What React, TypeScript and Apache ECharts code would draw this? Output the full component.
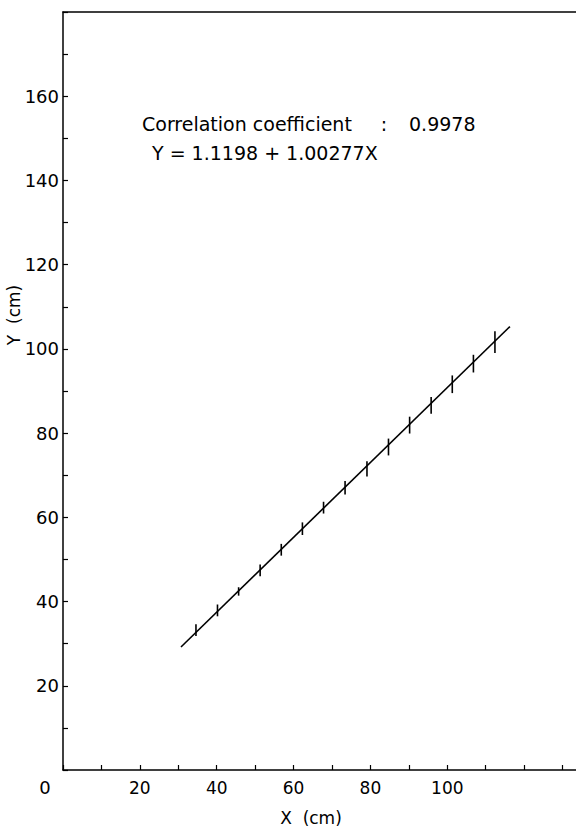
import React, { useEffect, useRef } from "react";
import * as echarts from "echarts";

// Data (X and Y in cm)
const pointX = [34.6, 40.2, 45.7, 51.3, 56.8, 62.3, 67.8, 73.4, 79.1, 84.7, 90.2, 95.8, 101.3, 106.8, 112.4];
const pointY = [33.2, 37.9, 42.4, 47.4, 52.3, 57.3, 62.3, 67.0, 71.5, 76.7, 81.9, 86.6, 91.6, 96.5, 101.6];
const errY = [1.4, 1.4, 1.0, 1.4, 1.4, 1.5, 1.4, 1.6, 1.8, 2.0, 2.0, 2.0, 2.1, 2.1, 2.6];
const fitLineX = [30.7, 116.3];
const fitLineY = [29.2, 105.3];
const xTickLabels = [20, 40, 60, 80, 100];
const yTickLabels = [20, 40, 60, 80, 100, 120, 140, 160];
const corrLabel = "Correlation coefficient";
const corrValue = "0.9978";
const equation = "Y = 1.1198 + 1.00277X";

const FONT = "DejaVu Sans";

export default function App() {
  const ref = useRef<HTMLDivElement>(null);
  useEffect(() => {
    if (!ref.current) return;
    const chart = echarts.init(ref.current, undefined, { renderer: "svg" });
    const axisLine = { show: true, lineStyle: { color: "#000", width: 1.5 } };
    const option: any = {
      animation: false,
      backgroundColor: "#fff",
      grid: { left: 63, right: 19, top: 12, bottom: 57, containLabel: false },
      xAxis: [
        {
          type: "value",
          position: "bottom",
          min: 0,
          max: 140,
          interval: 10,
          axisLine,
          axisTick: { show: true, inside: true, length: 5, lineStyle: { color: "#000", width: 1.2 } },
          axisLabel: {
            color: "#000",
            fontFamily: FONT,
            fontSize: 17,
            margin: 9,
            showMaxLabel: false,
            formatter: (v: number) => (xTickLabels.includes(v) ? String(v) : ""),
          },
          splitLine: { show: false },
        },
        {
          type: "value",
          position: "top",
          min: 0,
          max: 140,
          axisLine,
          axisTick: { show: false },
          axisLabel: { show: false },
          splitLine: { show: false },
        },
      ],
      yAxis: {
        type: "value",
        min: 0,
        max: 180,
        interval: 10,
        axisLine,
        axisTick: { show: true, inside: true, length: 5, lineStyle: { color: "#000", width: 1.2 } },
        axisLabel: {
          color: "#000",
          fontFamily: FONT,
          fontSize: 18,
          margin: 4,
          formatter: (v: number) => (yTickLabels.includes(v) ? String(v) : ""),
        },
        splitLine: { show: false },
      },
      series: [
        {
          type: "line",
          xAxisIndex: 0,
          data: fitLineX.map((x, i) => [x, fitLineY[i]]),
          showSymbol: false,
          lineStyle: { color: "#000", width: 1.6 },
          silent: true,
        },
        {
          type: "custom",
          xAxisIndex: 0,
          data: pointX.map((x, i) => [x, pointY[i], errY[i]]),
          renderItem: (params: any, api: any) => {
            const x = api.value(0);
            const y = api.value(1);
            const e = api.value(2);
            const p1 = api.coord([x, y - e]);
            const p2 = api.coord([x, y + e]);
            return {
              type: "line",
              shape: { x1: p1[0], y1: p1[1], x2: p2[0], y2: p2[1] },
              style: { stroke: "#000", lineWidth: 1.6 },
            };
          },
          silent: true,
        },
      ],
      graphic: [
        {
          type: "text",
          x: 45,
          y: 787,
          style: { text: "0", fontFamily: FONT, fontSize: 18, fill: "#000", align: "center", verticalAlign: "middle" },
        },
        {
          type: "text",
          x: 311,
          y: 818,
          style: { text: "X  (cm)", fontFamily: FONT, fontSize: 17, fill: "#000", align: "center", verticalAlign: "middle" },
        },
        {
          type: "text",
          x: 14,
          y: 315,
          rotation: Math.PI / 2,
          style: { text: "Y  (cm)", fontFamily: FONT, fontSize: 17, fill: "#000", align: "center", verticalAlign: "middle" },
        },
        {
          type: "text",
          x: 142,
          y: 124,
          style: { text: corrLabel, fontFamily: FONT, fontSize: 19, fill: "#000", align: "left", verticalAlign: "middle" },
        },
        {
          type: "text",
          x: 384,
          y: 124,
          style: { text: ":", fontFamily: FONT, fontSize: 19, fill: "#000", align: "center", verticalAlign: "middle" },
        },
        {
          type: "text",
          x: 409,
          y: 124,
          style: { text: corrValue, fontFamily: FONT, fontSize: 19, fill: "#000", align: "left", verticalAlign: "middle" },
        },
        {
          type: "text",
          x: 152,
          y: 153,
          style: { text: equation, fontFamily: FONT, fontSize: 19, fill: "#000", align: "left", verticalAlign: "middle" },
        },
      ],
    };
    chart.setOption(option);
    return () => chart.dispose();
  }, []);
  return (
    <div style={{ position: "absolute", left: 0, top: 0, width: 576, height: 827, overflow: "hidden", background: "#fff" }}>
      <div ref={ref} style={{ width: 620, height: 827 }} />
    </div>
  );
}
